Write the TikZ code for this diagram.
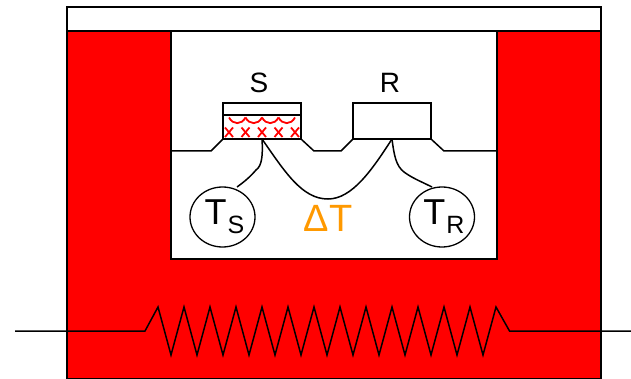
\documentclass[tikz,border=0pt]{standalone}
\usepackage{fontspec}
\setmainfont{Liberation Sans}
\usepackage{xcolor}
\usetikzlibrary{positioning, shapes.geometric, calc}
\definecolor{heatColor}{HTML}{FF0000}
\definecolor{deltaColor}{HTML}{FF9900}
\newcommand{\sensorlabel}[1]{\hspace*{4pt}\fontsize{36}{36}\selectfont T\hspace{1pt}\raisebox{-9pt}{\fontsize{25}{25}\selectfont #1}}

\begin{document}
\begin{tikzpicture}[
  x=1pt, y=-1pt,
  wall/.style={draw=black, line width=1.8pt},
  wire/.style={draw=black, line width=1.5pt},
  pan/.style={
    rectangle,
    draw=black,
    fill=white,
    line width=1.8pt,
    outer sep=0pt,
    minimum width=78pt,
    minimum height=36pt,
    inner sep=0pt
  },
  sensor/.style={
    ellipse,
    draw=black,
    fill=white,
    line width=1.3pt,
    minimum width=65pt,
    minimum height=60pt,
    inner sep=0pt
  },
  hatch/.style={draw=heatColor, line width=1.8pt},
  letter/.style={font=\fontsize{28}{28}\selectfont, inner sep=0pt}
]
  \useasboundingbox (0,0) rectangle (631,379);

  % Furnace body and cavity
  \fill[white] (0,0) rectangle (631,379);
  \filldraw[wall, fill=heatColor] (67,31) rectangle (601,379);
  \filldraw[wall, fill=white] (67,7) rectangle (601,31);
  \filldraw[wall, fill=white] (171,31) rectangle (497,259);

  % Pans
  \node (Span) [pan] at (262,121) {};
  \node (Rpan) [pan] at (392,121) {};
  \foreach \i in {0,...,4} {
    \pgfmathsetmacro{\cx}{229+16.5*\i}
    \draw[hatch] (\cx-4,127.5) -- (\cx+4,137);
    \draw[hatch] (\cx+4,127.5) -- (\cx-4,137);
  }
  \foreach \i in {0,...,3} {
    \pgfmathsetmacro{\cx}{229+16.5*\i}
    \draw[hatch] (\cx,117.5) .. controls (\cx+4,125) and (\cx+12.5,125) .. (\cx+16.5,117.5);
  }
  \draw[wall] (Span.south west) rectangle (Span.north east);
  \draw[wall] (223,115) -- (301,115);

  % Platform line
  \draw[wire] (171,151) -- (211,151) -- (Span.south west);
  \draw[wire] (Span.south east) -- (314,151) -- (341,151) -- (Rpan.south west);
  \draw[wire] (Rpan.south east) -- (444,151) -- (497,151);

  % Labels
  \node (Slabel) [letter, above=10pt of Span.north, xshift=-3pt] {S};
  \node (Rlabel) [letter, above=10pt of Rpan.north, xshift=-2pt] {R};

  % Sensors
  \node (Ts) [sensor] at (222.5,217) {\sensorlabel{S}};
  \node (Tr) [sensor] at (442,217) {\sensorlabel{R}};
  \node (dT) [font=\fontsize{38}{38}\selectfont, text=deltaColor, inner sep=0pt] at (328,218) {ΔT};

  % Thermocouple wires
  \draw[wire] (Span.south) .. controls (263,155) and (262,166) .. (256,170) .. controls (250,177) and (244,182) .. (237,187);
  \draw[wire] (Rpan.south) .. controls (394,155) and (396,166) .. (404,172) .. controls (412,178) and (422,182) .. (432,187);
  \draw[wire] (Span.south) .. controls (285,172) and (302,199) .. (328,199) .. controls (352,199) and (372,170) .. (Rpan.south);

  % Heater
  \draw[wire] (15,331) -- (145,331)
    \foreach \i in {0,...,12} { -- ({158+26*\i},307) -- ({171+26*\i},355) }
    -- (496,307) -- (509.5,331) -- (631,331);
\end{tikzpicture}
\end{document}
